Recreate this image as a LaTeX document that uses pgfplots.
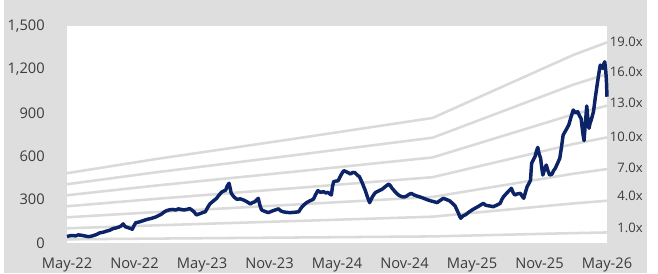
\documentclass[border=0pt]{standalone}
\usepackage{pgfplots}
\pgfplotsset{compat=1.18}
\usepackage{pgfplotstable}
\usepackage{fontspec}
\setmainfont{Open Sans}
\definecolor{bggrey}{HTML}{DEDEDE}
\definecolor{bandgrey}{HTML}{DADADA}
\definecolor{navy}{HTML}{0C2368}
\definecolor{txt}{HTML}{3C3C3C}

\pgfplotstableread{
m b1 b4 b7 b10 b13 b16 b19
0 25.4 101.6 177.8 254 330.2 406.4 482.6
8 30.6 122.4 214.2 306 397.8 489.6 581.4
20 37.8 151.2 264.6 378 491.4 604.8 718.2
32.5 45.5 182 318.5 455 591.5 728 864.5
45 68.4 273.6 478.8 684 889.2 1094.4 1299.6
48 73.0 292 511 730 949 1168 1387
}\bands

\pgfplotstableread{
m v
0.0 45
0.25 50
0.5 52
0.75 49
1.0 56
1.25 54
1.5 50
1.7 47
1.9 44
2.1 46
2.3 50
2.6 58
2.9 70
3.2 74
3.5 82
3.8 88
4.1 100
4.35 104
4.6 110
4.8 118
5.0 132
5.1 120
5.2 112
5.35 108
5.5 104
5.65 101
5.8 95
5.95 118
6.1 140
6.35 144
6.6 150
6.9 158
7.2 165
7.5 170
7.9 180
8.15 190
8.4 200
8.65 215
8.9 225
9.15 230
9.4 232
9.65 228
9.9 236
10.15 232
10.4 228
10.65 232
10.9 238
11.1 228
11.3 215
11.5 194
11.7 200
11.9 205
12.1 212
12.3 216
12.5 245
12.7 270
13.0 290
13.3 309
13.5 330
13.75 352
13.95 360
14.1 365
14.25 395
14.4 413
14.5 380
14.6 343
14.85 318
15.1 302
15.4 305
15.7 297
16.0 285
16.3 270
16.5 280
16.7 285
16.85 298
17.0 309
17.15 260
17.3 228
17.6 218
17.9 210
18.2 220
18.5 228
18.65 232
18.8 236
19.0 222
19.2 216
19.5 212
19.8 210
20.2 212
20.6 216
20.75 235
20.9 251
21.1 266
21.3 279
21.6 292
21.9 302
22.1 335
22.3 362
22.55 350
22.8 355
23.0 346
23.2 350
23.35 340
23.5 332
23.6 390
23.7 424
23.9 428
24.1 430
24.35 470
24.6 500
24.9 490
25.2 477
25.4 488
25.6 486
25.8 470
26.0 458
26.1 440
26.2 424
26.35 395
26.5 366
26.7 320
26.9 279
27.15 320
27.4 348
27.7 360
28.0 371
28.3 390
28.6 408
28.75 395
28.9 378
29.1 360
29.3 343
29.5 330
29.75 320
30.0 318
30.2 325
30.4 336
30.6 343
30.85 332
31.1 325
31.4 318
31.7 309
32.0 300
32.3 292
32.6 286
32.9 279
33.2 296
33.45 309
33.75 300
34.0 292
34.25 275
34.5 256
34.65 230
34.8 205
34.9 185
35.0 171
35.2 188
35.4 194
35.75 215
36.1 233
36.5 250
37.0 274
37.2 262
37.4 258
37.65 255
37.9 251
38.2 262
38.5 274
38.65 300
38.8 320
39.15 350
39.5 378
39.65 350
39.8 332
40.05 340
40.3 343
40.45 325
40.6 309
40.75 350
40.9 389
41.05 410
41.2 435
41.3 551
41.45 575
41.6 597
41.75 640
41.85 661
41.95 620
42.1 585
42.2 520
42.3 470
42.45 510
42.6 539
42.75 500
42.9 470
43.1 475
43.25 500
43.4 516
43.6 550
43.8 585
43.95 660
44.1 746
44.35 780
44.6 816
44.8 870
45.0 919
45.2 900
45.4 908
45.55 880
45.7 860
45.85 760
45.96 707
46.1 850
46.2 947
46.3 860
46.4 793
46.5 830
46.6 850
46.7 880
46.8 908
46.95 1000
47.1 1080
47.25 1160
47.4 1230
47.5 1215
47.6 1207
47.7 1235
47.8 1253
47.9 1180
47.95 1120
48.0 1011
}\price

\begin{document}
\begin{tikzpicture}
\useasboundingbox (0,0) rectangle (493.5pt,204.75pt);
\fill[bggrey] (3pt,0) rectangle (485pt,204.75pt);
\begin{axis}[
  at={(50.25pt,22.5pt)}, anchor=south west,
  scale only axis, width=405pt, height=162.75pt,
  xmin=0, xmax=48, ymin=0, ymax=1500,
  axis background/.style={fill=white},
  axis line style={draw=none},
  tick style={draw=none},
  major tick length=0pt,
  xtick={0,6,...,48},
  xticklabels={May-22,Nov-22,May-23,Nov-23,May-24,Nov-24,May-25,Nov-25,May-26},
  ytick={0,300,600,900,1200,1500},
  yticklabels={0,300,600,900,{1,200},{1,500}},
  ticklabel style={font=\fontsize{11}{13}\selectfont, text=txt},
  yticklabel style={inner sep=0pt, anchor=east, xshift=-16.5pt},
  xticklabel style={inner sep=0pt, anchor=north, yshift=-11.25pt},
  clip=false,
]
\foreach \c in {b1,b4,b7,b10,b13,b16,b19}{
  \addplot[bandgrey, line width=1.9pt] table[x=m, y=\c] {\bands};
}
\addplot[navy, line width=2.6pt, line join=round] table[x=m, y=v] {\price};
\begin{scope}[every node/.style={anchor=east, inner sep=0pt, text=txt, font=\fontsize{9.8}{11}\selectfont, xshift=27pt}]
\node at (axis cs:48,1389) {19.0x};
\node at (axis cs:48,1182) {16.0x};
\node at (axis cs:48,968) {13.0x};
\node at (axis cs:48,733) {10.0x};
\node at (axis cs:48,518) {7.0x};
\node at (axis cs:48,325) {4.0x};
\node at (axis cs:48,104) {1.0x};
\end{scope}
\end{axis}
\end{tikzpicture}
\end{document}
